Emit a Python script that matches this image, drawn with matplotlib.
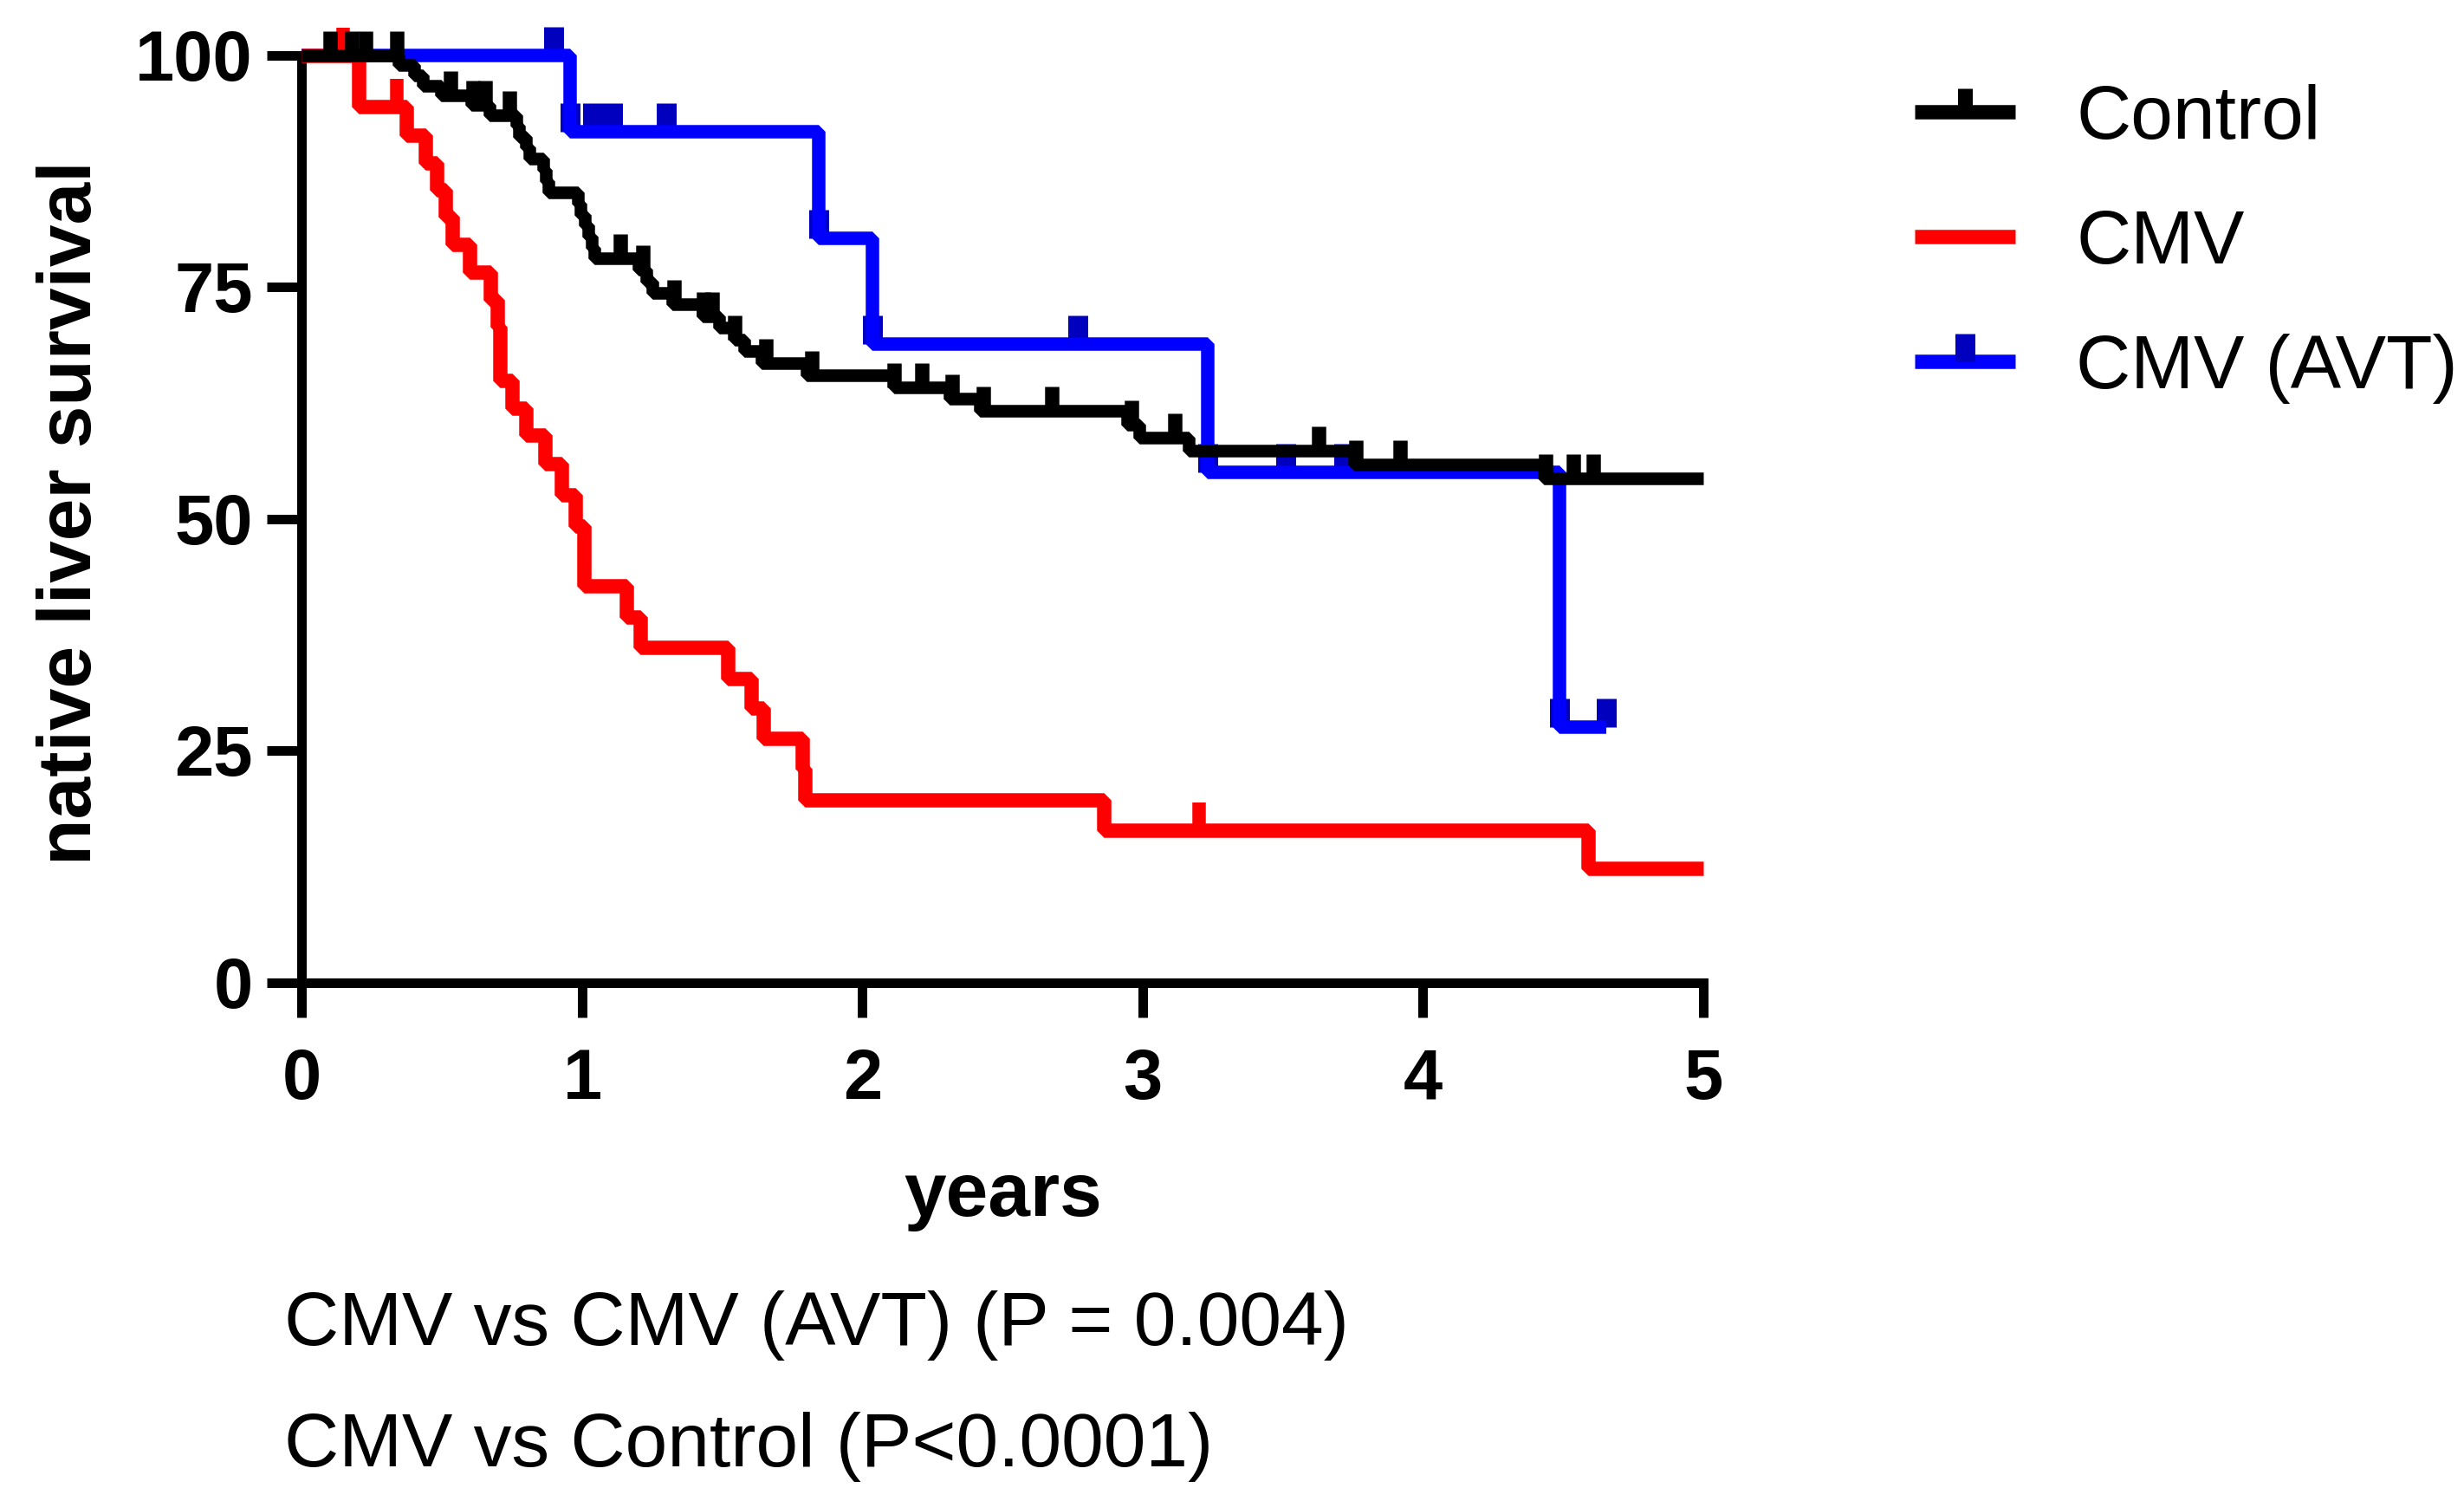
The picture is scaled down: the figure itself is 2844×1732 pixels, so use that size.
import numpy as np
import matplotlib
matplotlib.use("Agg")
import matplotlib.pyplot as plt
from matplotlib.path import Path
from matplotlib.markers import MarkerStyle
from matplotlib.lines import Line2D

plt.rcParams['font.family'] = ['Liberation Sans', 'DejaVu Sans']

# ---------------- data (years, % native liver survival) ----------------
control_t = [0.345, 0.40, 0.43, 0.495, 0.603, 0.668, 0.765, 0.775, 0.80, 0.81,
             0.86, 0.87, 0.88, 0.985, 0.995, 1.01, 1.022, 1.033, 1.042, 1.20,
             1.228, 1.25, 1.322, 1.43, 1.488, 1.543, 1.577, 1.64, 1.80, 2.113,
             2.31, 2.42, 2.944, 2.987, 3.163, 3.755, 4.43]
control_s = [98.9, 97.8, 96.7, 95.7, 94.6, 93.5, 92.4, 91.2, 90.0, 88.8,
             87.6, 86.4, 85.2, 84.0, 82.8, 81.6, 80.4, 79.2, 78.1, 76.9,
             75.6, 74.3, 73.1, 71.85, 70.6, 69.3, 68.1, 66.8, 65.5, 64.2,
             62.9, 61.6, 60.1, 58.7, 57.3, 55.8, 54.3]
control_end = 5.0
control_censored = [0.099, 0.178, 0.227, 0.34, 0.53, 0.609, 0.655, 0.741, 1.136,
                    1.215, 1.327, 1.434, 1.464, 1.545, 1.655, 1.818, 2.114, 2.212,
                    2.32, 2.432, 2.676, 2.96, 3.113, 3.628, 3.76, 3.917, 4.438,
                    4.536, 4.607]

cmv_t = [0.201, 0.371, 0.440, 0.480, 0.511, 0.537, 0.597, 0.671, 0.697, 0.707,
         0.751, 0.80, 0.867, 0.926, 0.975, 1.006, 1.158, 1.207, 1.518, 1.604,
         1.647, 1.786, 1.795, 2.861, 4.590]
cmv_s = [94.4, 91.4, 88.4, 85.5, 82.6, 79.6, 76.6, 73.6, 70.7, 64.9,
         61.9, 59.0, 55.9, 52.6, 49.2, 42.8, 39.4, 36.1, 32.8, 29.6,
         26.3, 23.0, 19.7, 16.4, 12.3]
cmv_end = 5.0
cmv_censored = [0.148, 0.339, 3.201]

avt_t = [0.957, 1.843, 2.035, 3.233, 4.487]
avt_s = [91.7, 80.2, 68.8, 55.0, 27.5]
avt_end = 4.655
avt_censored = [0.898, 0.957, 1.036, 1.108, 1.30, 1.843, 2.035, 2.769,
                3.233, 3.51, 3.716, 4.487, 4.655]

labels = ["Control", "CMV", "CMV (AVT)"]
xticks = [0, 1, 2, 3, 4, 5]
yticks = [0, 25, 50, 75, 100]

# ---------------- figure ----------------
DPI = 300
fig = plt.figure(figsize=(2845 / DPI, 1732 / DPI), dpi=DPI)
ax = fig.add_axes([348.5 / 2845, 1 - 1133.5 / 1732, 1617.5 / 2845, 1070 / 1732])

px = 72.0 / DPI  # points per pixel
tick_marker = MarkerStyle(Path([[0, 0], [0, 1]]), capstyle='butt')


def km_xy(t, s, end):
    x = np.concatenate([[0.0], t, [end]])
    y = np.concatenate([[100.0], s, [s[-1]]])
    return x, y


def surv_at(t, s, times):
    x = np.concatenate([[0.0], t])
    y = np.concatenate([[100.0], s])
    idx = np.searchsorted(x, times, side='right') - 1
    return y[idx]


series = [
    # (t, s, end, censored, color, lw_px, tick color, tick width px, tick height px, z)
    (avt_t, avt_s, avt_end, avt_censored, '#0000FF', 15.5, '#0000BE', 23, 33, 2),
    (cmv_t, cmv_s, cmv_end, cmv_censored, '#FF0000', 16.5, '#FF0000', 15.5, 32, 3),
    (control_t, control_s, control_end, control_censored, '#000000', 14.5, '#000000', 16.5, 28, 4),
]

for t, s, end, cens, col, lw, tcol, tw, th, z in series:
    x, y = km_xy(t, s, end)
    ax.plot(x, y, drawstyle='steps-post', color=col, lw=lw * px,
            solid_joinstyle='bevel', solid_capstyle='butt', clip_on=False, zorder=z)
    cy = surv_at(t, s, np.array(cens))
    ax.plot(cens, cy, linestyle='none', marker=tick_marker, ms=2 * th * px,
            mew=tw * px, mec=tcol, mfc=tcol, clip_on=False, zorder=z - 0.5)

ax.set_xlim(0, 5)
ax.set_ylim(0, 100)
ax.set_xticks(xticks)
ax.set_yticks(yticks)
ax.set_xticklabels([str(v) for v in xticks])
ax.set_yticklabels([str(v) for v in yticks])
for sp in ['top', 'right']:
    ax.spines[sp].set_visible(False)
for sp in ['left', 'bottom']:
    ax.spines[sp].set_linewidth(11 * px)
ax.tick_params(axis='both', width=11 * px, length=40 * px, labelsize=19.5, color='black')
ax.tick_params(axis='x', pad=8.5)
ax.tick_params(axis='y', pad=4)
plt.setp(ax.get_xticklabels(), fontweight='bold')
plt.setp(ax.get_yticklabels(), fontweight='bold')

fig.text(0.0370, 0.6585, "native liver survival", rotation=90, rotation_mode='anchor',
         ha='center', va='baseline', fontsize=21, fontweight='bold')
fig.text(0.4071, 0.190, "years", ha='center', va='baseline', fontsize=21, fontweight='bold')

fig.text(0.1153, 0.1039, "CMV vs CMV (AVT) (P = 0.004)", ha='left', va='baseline', fontsize=21)
fig.text(0.1153, 0.0231, "CMV vs Control (P<0.0001)", ha='left', va='baseline', fontsize=21)

handles = [
    Line2D([], [], color='#000000', lw=16.5 * px, solid_capstyle='butt', marker=tick_marker,
           ms=2 * 27 * px, mew=17 * px, mec='#000000'),
    Line2D([], [], color='#FF0000', lw=16.5 * px, solid_capstyle='butt'),
    Line2D([], [], color='#0000FF', lw=16.5 * px, solid_capstyle='butt', marker=tick_marker,
           ms=2 * 32 * px, mew=23 * px, mec='#0000BE'),
]
fig.legend(handles, labels, loc='upper left', bbox_to_anchor=(2210 / 2845, 1 - 97 / 1732),
           frameon=False, fontsize=21, handlelength=1.33, handletextpad=0.8,
           labelspacing=0.72, borderpad=0, borderaxespad=0, numpoints=1)

fig.savefig("out.png", dpi=DPI)
